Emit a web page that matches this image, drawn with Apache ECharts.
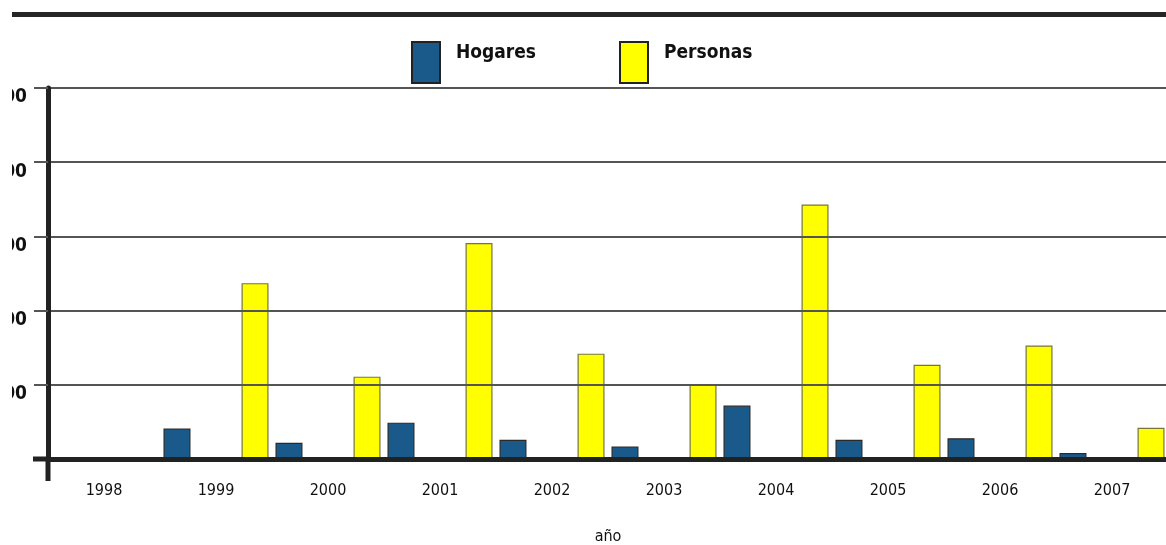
<!DOCTYPE html>
<html>
<head>
<meta charset="utf-8">
<title>Hogares y Personas por año</title>
<script src="https://cdn.jsdelivr.net/npm/echarts@6/dist/echarts.min.js"></script>
<style>
  html, body { margin: 0; padding: 0; background: #ffffff; }
  #chart { width: 1166px; height: 545px; }
</style>
</head>
<body>
<div id="chart"></div>
<script>
// Años del eje horizontal
const years = ['1998', '1999', '2000', '2001', '2002', '2003', '2004', '2005', '2006', '2007'];
// Valores por año
const hogares = [0, 41, 22, 49, 26, 17, 72, 26, 28, 8];
const personas = [0, 237, 111, 291, 142, 100, 343, 127, 153, 42];
// Escala vertical
const yMin = 0;
const yMax = 500;
const yStep = 100;

const FONT = "'DejaVu Sans Condensed', 'Liberation Sans Narrow', 'Arial Narrow', sans-serif";
const BLUE = '#195a8b';
const YELLOW = '#ffff00';

// Texto de la leyenda, algo por encima del centro del recuadro
const legendText = {
  rich: {
    t: {
      fontFamily: FONT, fontSize: 19, fontWeight: 'bold', color: '#111111',
      padding: [0, 0, 18, 11]
    }
  }
};

function legendFor(name, left) {
  return {
    data: [name], left: left, top: 41, padding: 0, icon: 'rect',
    itemWidth: 28, itemHeight: 41,
    itemStyle: { borderColor: '#222222', borderWidth: 2 },
    formatter: '{t|{name}}',
    textStyle: legendText
  };
}

const chart = echarts.init(document.getElementById('chart'), null, { renderer: 'canvas' });

chart.setOption({
  animation: false,
  backgroundColor: '#ffffff',
  grid: { left: 48, top: 88, width: 1120, height: 371, containLabel: false, outerBoundsMode: 'none' },
  legend: [legendFor('Hogares', 411), legendFor('Personas', 619)],
  xAxis: {
    type: 'category',
    data: years,
    boundaryGap: true,
    z: 5,
    name: 'año',
    nameLocation: 'middle',
    nameGap: 70,
    nameTextStyle: { fontFamily: FONT, fontSize: 16, color: '#111111', verticalAlign: 'top' },
    axisLine: { show: true, lineStyle: { color: '#222222', width: 5 } },
    axisTick: { show: false },
    axisLabel: { fontFamily: FONT, fontSize: 16, color: '#111111', margin: 24 },
    splitLine: { show: false }
  },
  yAxis: {
    type: 'value',
    min: yMin,
    max: yMax,
    interval: yStep,
    z: 4,
    axisLine: { show: true, lineStyle: { color: '#222222', width: 5 } },
    axisTick: { show: true, length: 14, lineStyle: { color: '#555555', width: 2 } },
    axisLabel: {
      fontFamily: FONT, fontSize: 19, fontWeight: 'bold', color: '#111111',
      margin: 21, verticalAlign: 'top',
      formatter: v => (v === 0 ? '' : String(v))
    },
    splitLine: { show: true, lineStyle: { color: '#555555', width: 2 } }
  },
  series: [
    {
      name: 'Hogares',
      type: 'bar',
      data: hogares,
      barWidth: 27,
      barGap: '189%',
      itemStyle: { color: BLUE, borderColor: '#2a2a2a', borderWidth: 1.2 }
    },
    {
      name: 'Personas',
      type: 'bar',
      data: personas,
      barWidth: 27,
      barGap: '189%',
      itemStyle: { color: YELLOW, borderColor: '#76763a', borderWidth: 1.2 }
    }
  ],
  graphic: [
    // banda superior
    { type: 'rect', z: 10, shape: { x: 12, y: 12, width: 1154, height: 5 }, style: { fill: '#262626' } },
    // prolongación del eje vertical bajo la base
    { type: 'line', z: 10, shape: { x1: 48, y1: 459, x2: 48, y2: 481 }, style: { stroke: '#222222', lineWidth: 5 } },
    // prolongación de la base a la izquierda del eje
    { type: 'line', z: 10, shape: { x1: 33, y1: 459, x2: 48, y2: 459 }, style: { stroke: '#222222', lineWidth: 5 } },
    // margen izquierdo
    { type: 'rect', z: 20, shape: { x: 0, y: 0, width: 12, height: 545 }, style: { fill: '#ffffff' } }
  ]
});
</script>
</body>
</html>
